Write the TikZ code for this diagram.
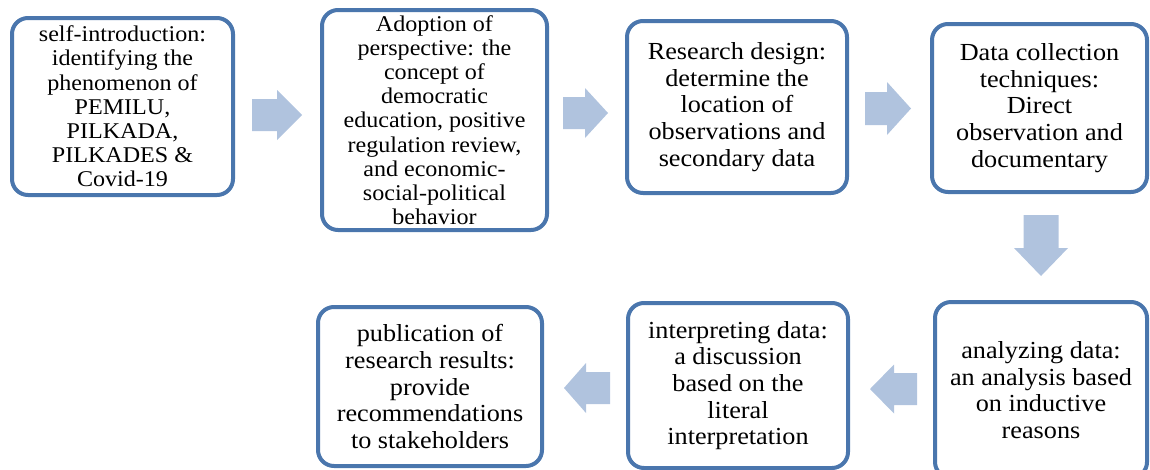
\documentclass[tikz,border=0pt]{standalone}
\usepackage{fontspec}
\setmainfont{Liberation Serif}[FakeStretch=1.07]
\definecolor{boxline}{RGB}{74,118,173}
\definecolor{arrowfill}{RGB}{176,195,222}
\begin{document}
\begin{tikzpicture}[x=1pt,y=-1pt,
  stagebox/.style={draw=boxline, line width=4pt, rounded corners=16pt, fill=white,
    align=center, inner sep=0pt, text=black},
  smalltext/.style={font=\fontsize{22.5}{24.2}\selectfont},
  bigtext/.style={font=\fontsize{24.5}{26.7}\selectfont},
  pics/blockarrow/.style n args={4}{code={
    \fill[arrowfill] (-#1/2,-#3/2) -- (#1/2-#4,-#3/2) -- (#1/2-#4,-#2/2) -- (#1/2,0)
      -- (#1/2-#4,#2/2) -- (#1/2-#4,#3/2) -- (-#1/2,#3/2) -- cycle;
  }}]
\useasboundingbox (0,0) rectangle (1150,469);
\clip (0,0) rectangle (1150,469);

% top row
\node[stagebox, smalltext, minimum width=221pt, minimum height=177pt] (b1) at (122.5,106.5)
  {self-introduction:\\identifying the\\phenomenon of\\PEMILU,\\PILKADA,\\PILKADES \&\\Covid-19};
\node[stagebox, smalltext, minimum width=225pt, minimum height=220pt] (b2) at (434.5,120)
  {Adoption of\\perspective: the\\concept of\\democratic\\education, positive\\regulation review,\\and economic-\\social-political\\behavior};
\node[stagebox, bigtext, minimum width=220pt, minimum height=172pt] (b3) at (737,107)
  {Research design:\\determine the\\location of\\observations and\\secondary data};
\node[stagebox, bigtext, minimum width=215pt, minimum height=168pt] (b4) at (1039.5,108)
  {Data collection\\techniques:\\Direct\\observation and\\documentary};

% bottom row
\node[stagebox, bigtext, minimum width=212pt, minimum height=176pt] (b5) at (1041,390)
  {analyzing data:\\an analysis based\\on inductive\\reasons};
\node[stagebox, bigtext, minimum width=220pt, minimum height=165pt] (b6) at (738,385.5)
  {interpreting data:\\a discussion\\based on the\\literal\\interpretation};
\node[stagebox, bigtext, minimum width=224pt, minimum height=159pt] (b7) at (430,386.5)
  {publication of\\research results:\\provide\\recommendations\\to stakeholders};

% block arrows
\pic (a1) at (277,115) {blockarrow={50}{50}{32}{25}};
\pic (a2) at (585.5,113) {blockarrow={45}{50}{32}{23}};
\pic (a3) at (888,108.5) {blockarrow={46}{53}{33}{24}};
\pic[rotate=-90] (a4) at (1041,245.5) {blockarrow={61}{54}{35}{28}};
\pic[rotate=180] (a5) at (587,388) {blockarrow={46}{50}{32}{22}};
\pic[rotate=180] (a6) at (893.5,389) {blockarrow={47}{49}{32}{24}};
\end{tikzpicture}
\end{document}
